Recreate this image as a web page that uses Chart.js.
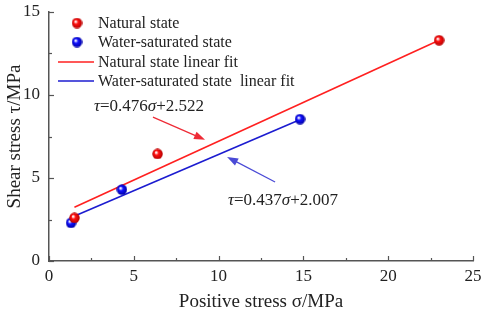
<!DOCTYPE html>
<html>
<head>
<meta charset="utf-8">
<script src="https://cdn.jsdelivr.net/npm/chart.js@4/dist/chart.umd.min.js"></script>
<style>
  html, body { margin: 0; padding: 0; background: #fff; }
  #wrap { width: 484px; height: 315px; }
</style>
</head>
<body>
<div id="wrap"><canvas id="shearChart"></canvas></div>
<script>
// values
const naturalSigma = [1.5, 6.4, 23.0];
const naturalTau   = [2.6, 6.45, 13.3];
const waterSigma   = [1.3, 4.3, 14.8];
const waterTau     = [2.3, 4.3, 8.55];

// fit line ends as drawn
const naturalFitSigma = [1.5, 23.0];
const naturalFitTau   = [3.24, 13.3];
const waterFitSigma   = [1.34, 14.75];
const waterFitTau     = [2.64, 8.5];

const xTickLabels = ['0', '5', '10', '15', '20', '25'];
const yTickLabels = ['0', '5', '10', '15'];

const seriesNames = ['Natural state', 'Water-saturated state',
  'Natural state linear fit', 'Water-saturated state  linear fit'];
const equations = [
  ['τ', '=0.476', 'σ', '+2.522'],
  ['τ', '=0.437', 'σ', '+2.007']
];

const FONT = '"Liberation Serif", "Times New Roman", serif';
const AXIS = '#555555';

const toPts = (xs, ys) => xs.map((x, i) => ({ x: x, y: ys[i] }));

// little shaded ball for the markers
function ball(color, dark) {
    const c = document.createElement('canvas');
    c.width = 11; c.height = 11;
    const g = c.getContext('2d');
    const grad = g.createRadialGradient(4, 4, 0.5, 5.5, 5.5, 5.5);
    grad.addColorStop(0, '#ffffff');
    grad.addColorStop(0.35, color);
    grad.addColorStop(1, dark);
    g.fillStyle = grad;
    g.beginPath();
    g.arc(5.5, 5.5, 5.2, 0, Math.PI * 2);
    g.fill();
    return c;
}
const redBall = ball('#ff1010', '#b00000');
const blueBall = ball('#1010ff', '#0000a0');

// inward ticks, legend, arrows and equations
const extras = {
    id: 'extras',
    afterDraw(chart) {
        const { ctx, scales: { x, y }, chartArea: a } = chart;
        ctx.save();
        ctx.strokeStyle = AXIS;
        ctx.lineWidth = 1.2;
        for (let v = 0; v <= 25; v += 2.5) {
            const px = Math.round(x.getPixelForValue(v)) + 0.5;
            const len = v % 5 === 0 ? 5 : 3;
            ctx.beginPath(); ctx.moveTo(px, a.bottom); ctx.lineTo(px, a.bottom - len); ctx.stroke();
        }
        for (let v = 0; v <= 15; v += 2.5) {
            const py = Math.round(y.getPixelForValue(v)) + 0.5;
            const len = v % 5 === 0 ? 5 : 3;
            ctx.beginPath(); ctx.moveTo(a.left, py); ctx.lineTo(a.left + len, py); ctx.stroke();
        }

        // legend
        const ds = chart.data.datasets;
        ctx.font = '16px ' + FONT;
        ctx.textBaseline = 'middle';
        ctx.fillStyle = '#222';
        const rows = [23, 42, 62, 81];
        rows.forEach((ry, i) => {
            if (i < 2) {
                const img = ds[i].pointStyle;
                ctx.drawImage(img, 77 - img.width / 2, ry - img.height / 2);
            } else {
                ctx.strokeStyle = ds[i].borderColor;
                ctx.lineWidth = 1.6;
                ctx.beginPath(); ctx.moveTo(58, ry); ctx.lineTo(94, ry); ctx.stroke();
            }
            ctx.fillText(ds[i].label, 98, ry + 1);
        });

        // arrows
        const arrow = (x0, y0, x1, y1, color) => {
            const sx = x.getPixelForValue(x0), sy = y.getPixelForValue(y0);
            const ex = x.getPixelForValue(x1), ey = y.getPixelForValue(y1);
            const ang = Math.atan2(ey - sy, ex - sx);
            ctx.strokeStyle = color; ctx.fillStyle = color; ctx.lineWidth = 1.2;
            ctx.beginPath(); ctx.moveTo(sx, sy);
            ctx.lineTo(ex - 8 * Math.cos(ang), ey - 8 * Math.sin(ang)); ctx.stroke();
            ctx.beginPath();
            ctx.moveTo(ex, ey);
            ctx.lineTo(ex - 11 * Math.cos(ang) + 4 * Math.sin(ang), ey - 11 * Math.sin(ang) - 4 * Math.cos(ang));
            ctx.lineTo(ex - 11 * Math.cos(ang) - 4 * Math.sin(ang), ey - 11 * Math.sin(ang) + 4 * Math.cos(ang));
            ctx.closePath(); ctx.fill();
        };
        arrow(6.13, 8.67, 9.2, 7.3, '#ee2b36');
        arrow(13.33, 4.76, 10.5, 6.27, '#4a4ad6');

        // equations
        const eq = (parts, xv, yv) => {
            let px = x.getPixelForValue(xv);
            const py = y.getPixelForValue(yv);
            ctx.fillStyle = '#222';
            ctx.textBaseline = 'middle';
            parts.forEach((p, i) => {
                ctx.font = (i % 2 === 0 ? 'italic ' : '') + '17px ' + FONT;
                ctx.fillText(p, px, py);
                px += ctx.measureText(p).width;
            });
        };
        eq(equations[0], 2.65, 9.3);
        eq(equations[1], 10.55, 3.67);
        ctx.restore();
    }
};

new Chart(document.getElementById('shearChart'), {
    type: 'scatter',
    data: {
        datasets: [
            { label: seriesNames[0], data: toPts(naturalSigma, naturalTau),
              pointStyle: redBall, pointRadius: 5, borderColor: '#ff1010', showLine: false },
            { label: seriesNames[1], data: toPts(waterSigma, waterTau),
              pointStyle: blueBall, pointRadius: 5, borderColor: '#1010ff', showLine: false },
            { label: seriesNames[2], data: toPts(naturalFitSigma, naturalFitTau),
              showLine: true, pointRadius: 0, borderColor: '#ff2020', borderWidth: 1.6 },
            { label: seriesNames[3], data: toPts(waterFitSigma, waterFitTau),
              showLine: true, pointRadius: 0, borderColor: '#1c1cd0', borderWidth: 1.6 }
        ]
    },
    options: {
        responsive: true,
        maintainAspectRatio: false,
        animation: false,
        layout: { padding: { top: 12, right: 11, left: 0, bottom: 0 } },
        scales: {
            x: {
                type: 'linear', min: 0, max: 25,
                afterFit: s => { s.height = 54; },
                afterBuildTicks: s => { s.ticks = xTickLabels.map(t => ({ value: Number(t) })); },
                ticks: { color: '#222', padding: -3, font: { family: FONT, size: 17 },
                         callback: (v, i) => xTickLabels[i] },
                grid: { display: false },
                border: { color: AXIS, width: 1.5 },
                title: { display: true, text: 'Positive stress σ/MPa', color: '#222',
                         font: { family: FONT, size: 19 }, padding: { top: 0, bottom: 2 } }
            },
            y: {
                type: 'linear', min: 0, max: 15,
                afterFit: s => { s.width = 49; },
                afterBuildTicks: s => { s.ticks = yTickLabels.map(t => ({ value: Number(t) })); },
                ticks: { color: '#222', padding: 1, font: { family: FONT, size: 17 },
                         callback: (v, i) => yTickLabels[i] },
                grid: { display: false },
                border: { color: AXIS, width: 1.5 },
                title: { display: true, text: 'Shear stress τ/MPa', color: '#222',
                         font: { family: FONT, size: 19 }, padding: { top: 4, bottom: 0 } }
            }
        },
        plugins: {
            legend: { display: false },
            tooltip: { enabled: false }
        }
    },
    plugins: [extras]
});
</script>
</body>
</html>
